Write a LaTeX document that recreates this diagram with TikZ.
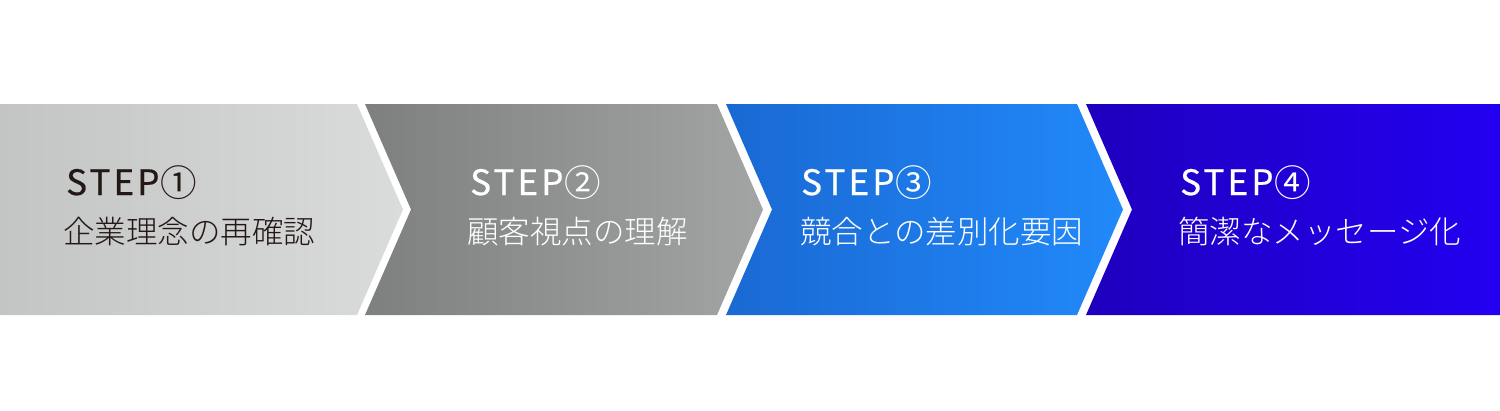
\documentclass[tikz,border=0pt]{standalone}
\usepackage{fontspec}
\setmainfont{Noto Sans CJK JP}
\IfFontExistsTF{Noto Sans CJK JP Light}
  {\newfontfamily\jplight{Noto Sans CJK JP Light}}
  {\newfontfamily\jplight{Noto Sans CJK JP}}
\usepackage{tikz}
\usetikzlibrary{calc,positioning}
\definecolor{gryL}{HTML}{C3C4C4}
\definecolor{gryR}{HTML}{DADBDB}
\definecolor{dkL}{HTML}{7E7F7F}
\definecolor{dkR}{HTML}{A3A4A4}
\definecolor{bluL}{HTML}{1A69D3}
\definecolor{bluR}{HTML}{2189FA}
\definecolor{indL}{HTML}{1F00BE}
\definecolor{indR}{HTML}{2300F0}
\definecolor{ink}{HTML}{231815}
\newcommand{\stepno}[1]{\hspace{1.5pt}\raisebox{-1.5pt}{\normalfont\fontsize{36.5}{36}\selectfont#1}}

\begin{document}
\begin{tikzpicture}
[x=1pt,y=-1pt,
			steptxt/.style={anchor=base west,inner sep=0pt,font=\fontsize{35}{40}\selectfont\addfontfeature{LetterSpace=9,FakeBold=0.6}},
			jptxt/.style={anchor=base west,inner sep=0pt,font=\jplight\fontsize{31.5}{38}\selectfont}]
\useasboundingbox (0,0) rectangle (1500,410);

\shade[left color=gryL,right color=gryR] (0,104) -- (357,104) -- (403,209.5) -- (357,315) -- (0,315) -- cycle;
\shade[left color=dkL,right color=dkR] (365,104) -- (717,104) -- (763,209.5) -- (717,315) -- (365,315) -- (411,209.5) -- cycle;
\shade[left color=bluL,right color=bluR] (726,104) -- (1077,104) -- (1123,209.5) -- (1077,315) -- (726,315) -- (772,209.5) -- cycle;
\shade[left color=indL,right color=indR] (1086,104) -- (1500,104) -- (1500,315) -- (1086,315) -- (1132,209.5) -- cycle;

\node (s1) at (66,195)[steptxt,text=ink] {STEP\stepno{①}};
\node (j1) at (63,243)[jptxt,text=ink] {企業理念の再確認};

\node (s2) at (470,195)[steptxt,text=white] {STEP\stepno{②}};
\node (j2) at (467,243)[jptxt,text=white] {顧客視点の理解};

\node (s3) at (801,195)[steptxt,text=white] {STEP\stepno{③}};
\node (j3) at (800,243)[jptxt,text=white] {競合との差別化要因};

\node (s4) at (1180,195)[steptxt,text=white] {STEP\stepno{④}};
\node (j4) at (1178,243)[jptxt,text=white] {簡潔なメッセージ化};

\end{tikzpicture}
\end{document}
